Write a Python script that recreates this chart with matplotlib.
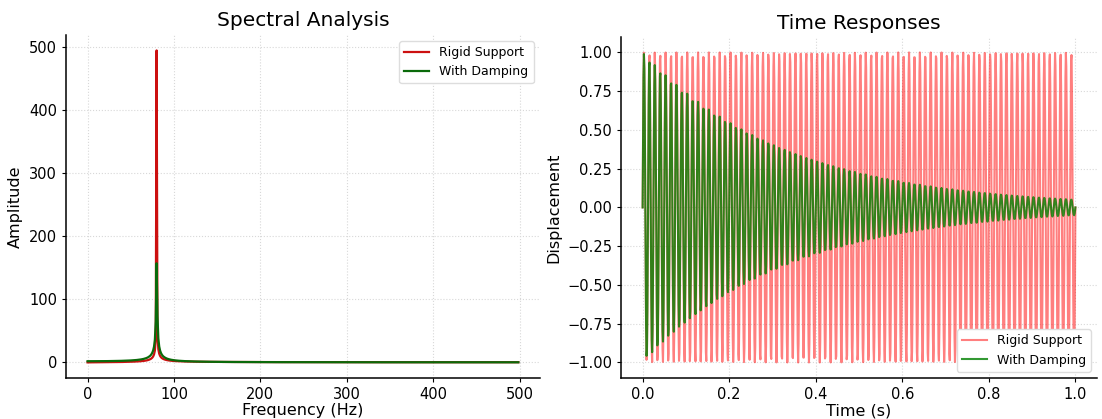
import numpy as np
import matplotlib
matplotlib.use("Agg")
import matplotlib.pyplot as plt

# signal parameters
n_samples = 1000
duration = 1.0           # s
freq_hz = 80.0           # resonance frequency
damping_rate = 3.0       # 1/s, envelope exp(-rate*t)
amplitude = 1.0

labels = ["Rigid Support", "With Damping"]

t = np.linspace(0, duration, n_samples)
rigid = amplitude * np.sin(2 * np.pi * freq_hz * t)
damped = amplitude * np.exp(-damping_rate * t) * np.sin(2 * np.pi * freq_hz * t)

freqs = np.fft.fftfreq(n_samples, d=t[1] - t[0])
half = n_samples // 2
spec_rigid = np.abs(np.fft.fft(rigid))[:half]
spec_damped = np.abs(np.fft.fft(damped))[:half]

fig = plt.figure(figsize=(11.02, 4.19), dpi=100)
ax1 = fig.add_axes([0.0599, 0.0979, 0.430, 0.819])
ax2 = fig.add_axes([0.5635, 0.0979, 0.432, 0.814])

for ax in (ax1, ax2):
    ax.grid(True, color="#d8d8d8", linestyle=":", linewidth=0.8)
    ax.spines["top"].set_visible(False)
    ax.spines["right"].set_visible(False)
    ax.spines["left"].set_linewidth(1.1)
    ax.spines["bottom"].set_linewidth(1.1)
    ax.tick_params(labelsize=10.5, length=3)
    ax.set_axisbelow(True)

ax1.plot(freqs[:half], spec_rigid, color="#cc1010", lw=1.6, label=labels[0])
ax1.plot(freqs[:half], spec_damped, color="#0a6a0a", lw=1.6, label=labels[1])
ax1.set_title("Spectral Analysis", fontsize=14.5)
ax1.set_xlabel("Frequency (Hz)", fontsize=11.5, labelpad=1)
ax1.set_ylabel("Amplitude", fontsize=11.5)
ax1.set_xticks([0, 100, 200, 300, 400, 500])
ax1.legend(loc="upper right", fontsize=9, framealpha=1, edgecolor="#dddddd")

ax2.plot(t, rigid, color="red", alpha=0.5, lw=1.5, label=labels[0])
ax2.plot(t, damped, color="green", alpha=0.8, lw=1.5, label=labels[1])
ax2.set_title("Time Responses", fontsize=14.5)
ax2.set_xlabel("Time (s)", fontsize=11.5, labelpad=1)
ax2.set_ylabel("Displacement", fontsize=11.5)
ax2.legend(loc="lower right", fontsize=9, framealpha=1, edgecolor="#dddddd")

fig.savefig("out.png", dpi=100)
